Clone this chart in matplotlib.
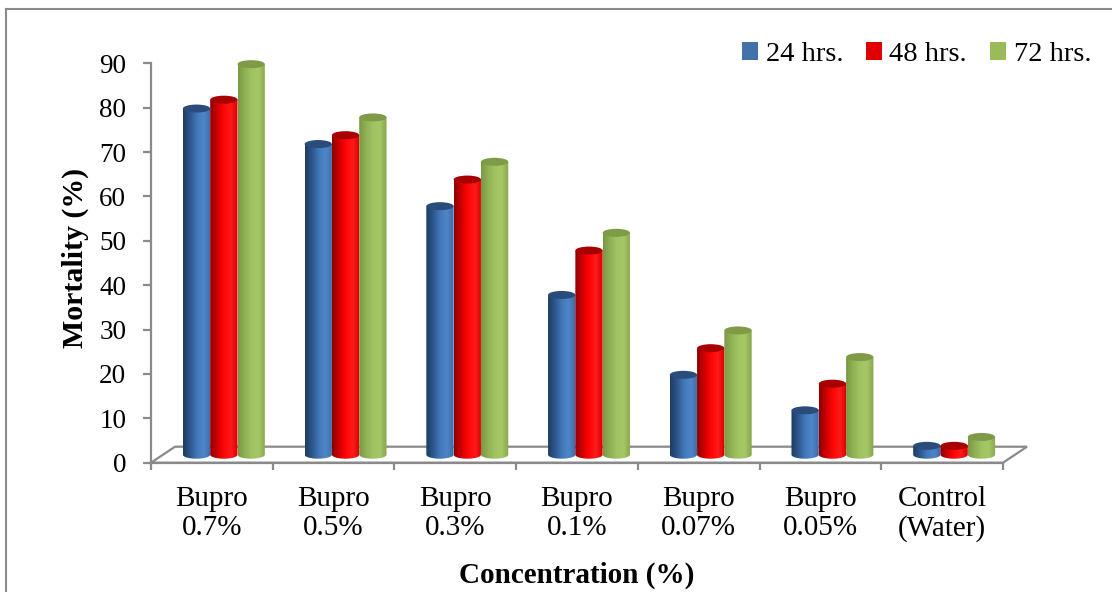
import matplotlib
matplotlib.use("Agg")
import matplotlib.pyplot as plt
import numpy as np
from matplotlib.colors import LinearSegmentedColormap
from matplotlib.lines import Line2D
from matplotlib.patches import Ellipse, Patch, PathPatch, Polygon
from matplotlib.path import Path

plt.rcParams["font.family"] = ["Liberation Serif", "DejaVu Serif"]

categories = ["Bupro\n0.7%", "Bupro\n0.5%", "Bupro\n0.3%", "Bupro\n0.1%",
              "Bupro\n0.07%", "Bupro\n0.05%", "Control\n(Water)"]
hrs24 = [78, 70, 56, 36, 18, 10, 2]
hrs48 = [80, 72, 62, 46, 24, 16, 2]
hrs72 = [88, 76, 66, 50, 28, 22, 4]
series_labels = ["24 hrs.", "48 hrs.", "72 hrs."]
yticks = [0, 10, 20, 30, 40, 50, 60, 70, 80, 90]

# cylinder shading (left -> right) and cap colours
shades = [
  ["#1d3b62", "#2c568a", "#4278b8", "#4f86c9", "#3b6ba6"],
  ["#8a0000", "#cc0000", "#ff0505", "#ff1a1a", "#d60000"],
  ["#7a9844", "#8fb054", "#a2c362", "#a6c766", "#86a34b"],
]
caps = ["#2a4c7a", "#a80000", "#7f9b48"]
legend_colors = ["#4371aa", "#e00000", "#9bbb59"]
axis_gray = "#8a8a8a"

W, H = 1112, 592
YMAX, YTOP = 90, 95
px_per_unit = 399.4 / YMAX
fig = plt.figure(figsize=(W / 100, H / 100), dpi=100)
ax = fig.add_axes([151 / W, (H - 462.7) / H, 852 / W, px_per_unit * YTOP / H])
ax.set_xlim(0, len(categories))
ax.set_ylim(0, YTOP)
ax.set_autoscale_on(False)

# depth of the floor (px) expressed in data units
p0 = ax.transData.transform((0, 0))
depth_x, depth_y = ax.transData.inverted().transform(p0 + np.array([24, 16]))
bw = 27.3 / (852 / len(categories))
eh = 8 / px_per_unit

for s in ["top", "right"]:
  ax.spines[s].set_visible(False)
for s in ["left", "bottom"]:
  ax.spines[s].set_color(axis_gray)
  ax.spines[s].set_linewidth(1.6)
ax.spines["left"].set_bounds(0, YMAX)

floor = Polygon([(0, 0), (len(categories), 0),
                 (len(categories) + depth_x, depth_y), (depth_x, depth_y)],
                closed=True, fill=False, edgecolor=axis_gray, lw=1.6,
                clip_on=False, zorder=1)
ax.add_patch(floor)


def cylinder(xc, value, k, z):
  base = depth_y / 2
  top = value + base
  t = np.linspace(np.pi, 2 * np.pi, 40)
  verts = list(zip(xc + bw / 2 * np.cos(t), base + eh / 2 * np.sin(t)))
  verts += [(xc + bw / 2, top), (xc - bw / 2, top), verts[0]]
  codes = [Path.MOVETO] + [Path.LINETO] * (len(verts) - 2) + [Path.CLOSEPOLY]
  body = PathPatch(Path(verts, codes), fc="none", lw=0, transform=ax.transData)
  ax.add_patch(body)
  cmap = LinearSegmentedColormap.from_list("c%d" % k, shades[k])
  grad = cmap(np.linspace(0, 1, 256))[None, :, :]
  im = ax.imshow(grad, extent=[xc - bw / 2, xc + bw / 2, base - eh / 2, top],
                 aspect="auto", interpolation="bilinear", zorder=z)
  im.set_clip_path(body)
  ax.add_patch(Ellipse((xc, top), bw, eh, facecolor=caps[k],
                       edgecolor="none", zorder=z + 0.5))


series = [hrs24, hrs48, hrs72]
for i in range(len(categories)):
  for k, vals in enumerate(series):
    xc = i + 0.5 + (k - 1) * bw + depth_x / 2
    cylinder(xc, vals[i], k, 3 + k)

ax.set_xlim(0, len(categories))
ax.set_ylim(0, YTOP)

ax.set_yticks(yticks)
ax.tick_params(axis="y", direction="out", length=5.8, width=1.6,
               color=axis_gray, labelsize=19.5, pad=12)
ax.set_xticks(range(len(categories) + 1))
ax.set_xticklabels([])
ax.tick_params(axis="x", which="major", direction="out", length=5,
               width=1.6, color=axis_gray)
ax.set_xticks(np.arange(len(categories)) + 0.5, minor=True)
ax.set_xticklabels(categories, minor=True, fontsize=21, linespacing=1.15)
ax.tick_params(axis="x", which="minor", length=0, pad=17)

fig.text(75 / W, 1 - 258 / H, "Mortality (%)", rotation=90, fontsize=21.5,
         fontweight="bold", ha="center", va="center")
fig.text(577 / W, 1 - 575 / H, "Concentration (%)", fontsize=21,
         fontweight="bold", ha="center", va="center")

handles = [Patch(facecolor=c, edgecolor="none") for c in legend_colors]
fig.legend(handles, series_labels, loc="upper right",
           bbox_to_anchor=(1091 / W, 1 - 42 / H), ncol=3, frameon=False,
           fontsize=20.5, handlelength=0.58, handleheight=0.58,
           handletextpad=0.25, columnspacing=0.8, borderaxespad=0,
           borderpad=0)

# chart border
fig.add_artist(Line2D([6 / W, 6 / W], [0, 1 - 9 / H], color=axis_gray, lw=1.5))
fig.add_artist(Line2D([6 / W, 1], [1 - 9 / H, 1 - 9 / H], color=axis_gray, lw=1.5))

fig.savefig("out.png", dpi=100)
